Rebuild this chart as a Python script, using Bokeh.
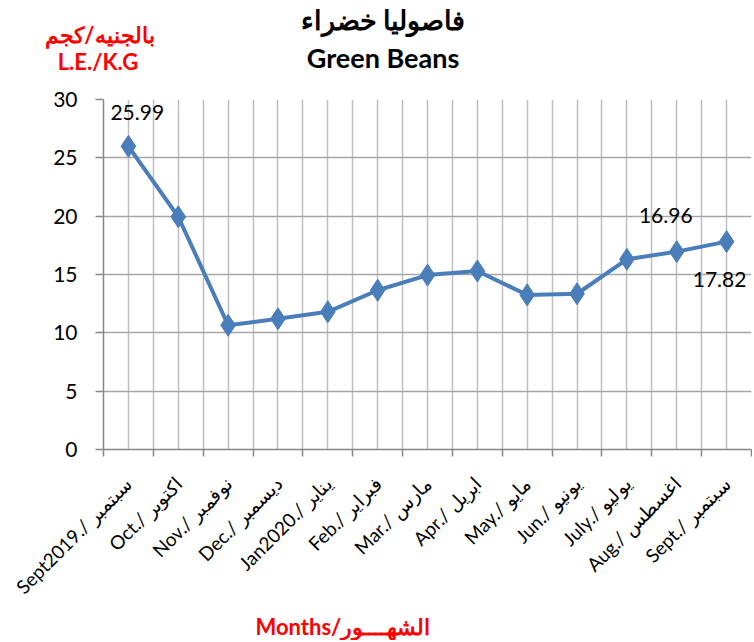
import math
from bokeh.plotting import figure
from bokeh.layouts import column
from bokeh.models import FixedTicker, Label, ColumnDataSource, Range1d, Title, Div
from bokeh.embed import file_html
from bokeh.resources import INLINE

months = ["Sept2019./ سبتمبر", "Oct./ اكتوبر", "Nov./ نوفمبر", "Dec./ ديسمبر",
          "Jan2020./ يناير", "Feb./ فبراير", "Mar./ مارس", "Apr./ ابريل",
          "May./ مايو", "Jun./ يونيو", "July./ يوليو", "Aug./ اغسطس", "Sept./ سبتمبر"]
prices = [25.99, 19.95, 10.65, 11.2, 11.8, 13.65, 14.95, 15.3, 13.25, 13.35, 16.3, 16.96, 17.82]
y_ticks = [0, 5, 10, 15, 20, 25, 30]
labeled = {0: "25.99", 11: "16.96", 12: "17.82"}
title_ar = "فاصوليا خضراء"
title_en = "Green Beans"
unit_ar = "بالجنيه/كجم"
unit_en = "L.E./K.G"
x_title = "Months/الشهــــور"

FONT = "Lato"
W = 752
HEAD_H = 80
LEFT = 103
xs = [i + 0.5 for i in range(len(months))]

# ---- header (titles) as real HTML text ----
def span(txt, left, top, size, color):
    return (f'<span style="position:absolute;left:{left}px;top:{top}px;'
            f'transform:translate(-50%,-50%);white-space:nowrap;font-family:{FONT};'
            f'font-weight:bold;font-size:{size}px;color:{color};line-height:1">{txt}</span>')

head_html = ('<div style="position:relative;width:%dpx;height:%dpx;">' % (W, HEAD_H)
             + span(title_ar, 383, 19, 27, "black")
             + span(title_en, 383, 57, 27, "black")
             + span(unit_ar, 100, 35, 22, "#FF0000")
             + span(unit_en, 98, 62, 22, "#FF0000")
             + '</div>')
head = Div(text=head_html, width=W, height=HEAD_H, margin=0)

# ---- main chart ----
p = figure(width=W, height=640 - HEAD_H, output_backend="svg", toolbar_location=None,
           x_range=Range1d(0, len(months)), y_range=Range1d(0, 30),
           min_border_left=LEFT, min_border_right=1, min_border_top=19, min_border_bottom=180)
p.outline_line_color = None

src = ColumnDataSource(dict(x=xs, y=prices))
p.line("x", "y", source=src, line_color="#4A7EBB", line_width=4)
p.scatter("x", "y", source=src, marker="diamond", size=22, fill_color="#4A7EBB", line_color="#4A7EBB")

p.xaxis.ticker = FixedTicker(ticks=xs, minor_ticks=list(range(len(months) + 1)))
p.xaxis.major_label_overrides = {x: m for x, m in zip(xs, months)}
p.xaxis.major_label_orientation = math.pi / 4
p.xaxis.major_tick_out = 0
p.xaxis.major_tick_in = 0
p.xaxis.minor_tick_out = 7
p.xaxis.minor_tick_in = 0
p.xaxis.minor_tick_line_color = "#868686"
p.xaxis.minor_tick_line_width = 1.5
p.xaxis.major_label_standoff = 24
p.xaxis.major_label_text_font = FONT
p.xaxis.major_label_text_font_size = "19px"
p.xaxis.major_label_text_color = "black"

p.yaxis.ticker = FixedTicker(ticks=y_ticks)
p.yaxis.major_tick_out = 8
p.yaxis.major_tick_in = 0
p.yaxis.minor_tick_line_color = None
p.yaxis.major_label_text_font = FONT
p.yaxis.major_label_text_font_size = "21px"
p.yaxis.major_label_text_color = "black"
p.yaxis.major_label_standoff = 18

for ax in (p.xaxis, p.yaxis):
    ax.axis_line_color = "#868686"
    ax.axis_line_width = 1.5
    ax.major_tick_line_color = "#868686"
    ax.major_tick_line_width = 1.5

p.xgrid.ticker = FixedTicker(ticks=xs, minor_ticks=list(range(len(months) + 1)))
p.xgrid.grid_line_color = "#BFBFBF"
p.xgrid.grid_line_width = 1.5
p.xgrid.minor_grid_line_color = "#BFBFBF"
p.xgrid.minor_grid_line_width = 1.5
p.ygrid.ticker = FixedTicker(ticks=y_ticks)
p.ygrid.grid_line_color = "#A6A6A6"
p.ygrid.grid_line_width = 1.5

offsets = {0: (-18, 26, "left", "bottom"), 11: (-11, 29, "center", "bottom"),
           12: (-7, -30, "center", "top")}
for i, txt in labeled.items():
    dx, dy, al, bl = offsets[i]
    p.add_layout(Label(x=xs[i], y=prices[i], text=txt, x_offset=dx, y_offset=dy,
                       text_align=al, text_baseline=bl, text_font=FONT,
                       text_font_size="21px", text_color="black"))

p.add_layout(Title(text=x_title, align="left", offset=152, standoff=2, text_font=FONT,
                   text_font_size="22px", text_font_style="bold", text_color="#FF0000"), "below")

open("out.html", "w").write(file_html(column(head, p), INLINE))
